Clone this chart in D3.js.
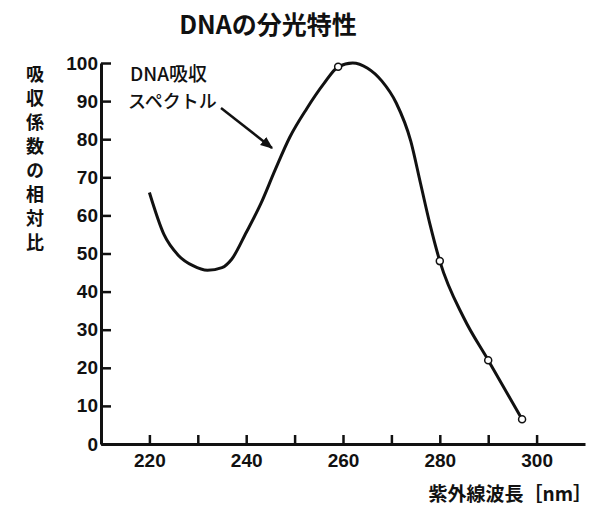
<!DOCTYPE html>
<html lang="ja">
  <head>
    <meta charset="UTF-8" />
    <title>DNAの分光特性</title>
    <script src="https://d3js.org/d3.v7.min.js"></script>
    <style>
      body {
        margin: 0;
        background: #fff;
      }
      .axis path,
      .axis line {
        stroke: #111;
      }
      .axis text {
        font-family: "Liberation Sans", Arial, sans-serif;
        font-size: 19px;
        font-weight: bold;
        fill: #111;
      }
      .jp {
        font-family: "Noto Sans CJK JP", sans-serif;
        font-weight: bold;
        fill: #111;
      }
    </style>
  </head>
  <body>
    <div id="chart"></div>
    <script>
      // 波長 [nm] と吸収係数の相対比
      const wavelength = [220, 223, 226, 229, 232, 235, 237, 240, 243, 246, 249, 252.5, 256, 259, 262, 265, 268, 271, 274, 276, 278, 280, 285, 290, 297];
      const absorbance = [66, 55, 49.5, 46.8, 45.6, 46.3, 48.5, 55.5, 63, 72, 80.5, 88, 94.5, 99, 100, 98.7, 95.3, 89.5, 79.5, 68.5, 57.5, 48, 33, 22, 6.5];

      // 白丸の測定点
      const markerWavelength = [259, 280, 290, 297];
      const markerAbsorbance = [99, 48, 22, 6.5];

      const xTicks = [220, 230, 240, 250, 260, 270, 280, 290, 300];
      const xTickLabels = ["220", "", "240", "", "260", "", "280", "", "300"];
      const yTicks = [0, 10, 20, 30, 40, 50, 60, 70, 80, 90, 100];

      const width = 596,
        height = 508;

      const svg = d3
        .select("#chart")
        .append("svg")
        .attr("width", width)
        .attr("height", height);

      const x = d3.scaleLinear().domain([210, 310]).range([101, 585]);
      const y = d3.scaleLinear().domain([0, 100]).range([444, 63]);

      // タイトル
      svg
        .append("text")
        .attr("class", "jp")
        .attr("x", 268)
        .attr("y", 34)
        .attr("text-anchor", "middle")
        .style("font-size", "25px")
        .text("DNAの分光特性");

      // y軸
      const yAxis = svg
        .append("g")
        .attr("class", "axis")
        .attr("transform", `translate(${x(210)},0)`)
        .call(d3.axisLeft(y).tickValues(yTicks).tickSize(-10).tickPadding(3).tickSizeOuter(0));
      yAxis.select(".domain").attr("stroke-width", 3);
      yAxis.selectAll(".tick line").attr("stroke-width", 2.5);

      // x軸
      const xAxis = svg
        .append("g")
        .attr("class", "axis")
        .attr("transform", `translate(0,${y(0)})`)
        .call(
          d3
            .axisBottom(x)
            .tickValues(xTicks)
            .tickFormat((d, i) => xTickLabels[i])
            .tickSize(-9)
            .tickPadding(7)
            .tickSizeOuter(0)
        );
      xAxis.select(".domain").attr("stroke-width", 3);
      xAxis.selectAll(".tick text").attr("dy", "0.85em");
      xAxis.selectAll(".tick line").attr("stroke-width", 2.5);

      // 軸ラベル（縦書き）
      svg
        .append("text")
        .attr("class", "jp")
        .attr("x", 35)
        .attr("y", 65)
        .style("font-size", "18px")
        .style("writing-mode", "vertical-rl")
        .style("letter-spacing", "6px")
        .text("吸収係数の相対比");

      svg
        .append("text")
        .attr("class", "jp")
        .attr("x", 592)
        .attr("y", 501)
        .attr("text-anchor", "end")
        .style("font-size", "19px")
        .text("紫外線波長［nm］");

      // 吸収スペクトル曲線
      const points = wavelength.map((w, i) => [w, absorbance[i]]);
      const line = d3
        .line()
        .x((d) => x(d[0]))
        .y((d) => y(d[1]))
        .curve(d3.curveMonotoneX);

      svg
        .append("path")
        .datum(points)
        .attr("d", line)
        .attr("fill", "none")
        .attr("stroke", "#111")
        .attr("stroke-width", 3);

      svg
        .append("g")
        .selectAll("circle")
        .data(markerWavelength)
        .join("circle")
        .attr("cx", (d) => x(d))
        .attr("cy", (d, i) => y(markerAbsorbance[i]))
        .attr("r", 3.5)
        .attr("fill", "#fff")
        .attr("stroke", "#111")
        .attr("stroke-width", 1.5);

      // 注釈と矢印
      svg
        .append("defs")
        .append("marker")
        .attr("id", "arrow")
        .attr("viewBox", "0 0 10 10")
        .attr("refX", 9)
        .attr("refY", 5)
        .attr("markerWidth", 5)
        .attr("markerHeight", 5)
        .attr("orient", "auto")
        .append("path")
        .attr("d", "M0,1 L10,5 L0,9 Z")
        .attr("fill", "#111");

      svg
        .append("text")
        .attr("class", "jp")
        .attr("x", 130)
        .attr("y", 81)
        .style("font-size", "19px")
        .style("font-weight", "500")
        .text("DNA吸収");
      svg
        .append("text")
        .attr("class", "jp")
        .attr("x", 128)
        .attr("y", 108)
        .style("font-size", "18px")
        .style("font-weight", "500")
        .text("スペクトル");

      svg
        .append("line")
        .attr("x1", 221)
        .attr("y1", 108)
        .attr("x2", 272)
        .attr("y2", 148)
        .attr("stroke", "#111")
        .attr("stroke-width", 2.5)
        .attr("marker-end", "url(#arrow)");
    </script>
  </body>
</html>
